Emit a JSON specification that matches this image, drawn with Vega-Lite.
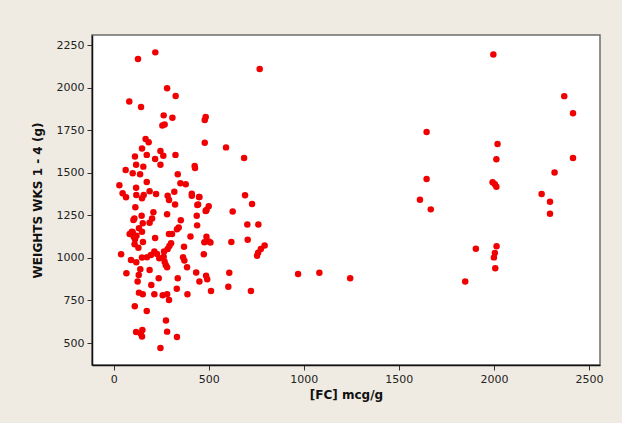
{
  "$schema": "https://vega.github.io/schema/vega-lite/v6.json",
  "width": 508,
  "height": 330,
  "autosize": {"type": "none"},
  "padding": {"left": 92, "top": 35, "right": 22, "bottom": 58},
  "background": "#efebe2",
  "config": {
    "view": {"fill": "white", "stroke": "#6e6e6e", "strokeWidth": 1.5},
    "axis": {
      "labelFont": "DejaVu Sans", "labelFontSize": 11, "labelColor": "#222222",
      "titleFont": "DejaVu Sans", "titleFontSize": 12, "titleFontWeight": "bold", "titleColor": "#111111",
      "domainColor": "#111111", "domainWidth": 1.5, "tickColor": "#333333", "tickSize": 5, "labelPadding": 3, "grid": false
    }
  },
  "data": {"values": [
    {"fc": 128, "w": 2168}, {"fc": 219, "w": 2207}, {"fc": 768, "w": 2109}, {"fc": 281, "w": 1996},
    {"fc": 326, "w": 1951}, {"fc": 82, "w": 1919}, {"fc": 144, "w": 1886}, {"fc": 263, "w": 1837},
    {"fc": 309, "w": 1823}, {"fc": 256, "w": 1778}, {"fc": 268, "w": 1784}, {"fc": 484, "w": 1827},
    {"fc": 479, "w": 1810}, {"fc": 168, "w": 1698}, {"fc": 184, "w": 1679}, {"fc": 149, "w": 1643},
    {"fc": 479, "w": 1676}, {"fc": 591, "w": 1649}, {"fc": 686, "w": 1586}, {"fc": 112, "w": 1595},
    {"fc": 174, "w": 1605}, {"fc": 246, "w": 1628}, {"fc": 261, "w": 1600}, {"fc": 218, "w": 1581},
    {"fc": 325, "w": 1605}, {"fc": 118, "w": 1547}, {"fc": 156, "w": 1536}, {"fc": 246, "w": 1547},
    {"fc": 426, "w": 1540}, {"fc": 428, "w": 1528}, {"fc": 63, "w": 1516}, {"fc": 100, "w": 1497},
    {"fc": 139, "w": 1491}, {"fc": 337, "w": 1491}, {"fc": 174, "w": 1446}, {"fc": 351, "w": 1438},
    {"fc": 379, "w": 1432}, {"fc": 30, "w": 1426}, {"fc": 47, "w": 1379}, {"fc": 65, "w": 1356},
    {"fc": 118, "w": 1412}, {"fc": 119, "w": 1369}, {"fc": 149, "w": 1350}, {"fc": 158, "w": 1369},
    {"fc": 189, "w": 1391}, {"fc": 223, "w": 1375}, {"fc": 284, "w": 1365}, {"fc": 291, "w": 1340},
    {"fc": 319, "w": 1389}, {"fc": 323, "w": 1313}, {"fc": 411, "w": 1377}, {"fc": 411, "w": 1365},
    {"fc": 449, "w": 1358}, {"fc": 444, "w": 1313}, {"fc": 488, "w": 1281}, {"fc": 500, "w": 1303},
    {"fc": 484, "w": 1276}, {"fc": 691, "w": 1368}, {"fc": 728, "w": 1317}, {"fc": 626, "w": 1272},
    {"fc": 114, "w": 1297}, {"fc": 109, "w": 1232}, {"fc": 104, "w": 1223}, {"fc": 147, "w": 1248},
    {"fc": 153, "w": 1203}, {"fc": 209, "w": 1268}, {"fc": 202, "w": 1232}, {"fc": 189, "w": 1207},
    {"fc": 281, "w": 1256}, {"fc": 353, "w": 1221}, {"fc": 437, "w": 1248}, {"fc": 439, "w": 1191},
    {"fc": 703, "w": 1196}, {"fc": 761, "w": 1196}, {"fc": 342, "w": 1178}, {"fc": 333, "w": 1168},
    {"fc": 291, "w": 1140}, {"fc": 307, "w": 1140}, {"fc": 84, "w": 1140}, {"fc": 96, "w": 1154},
    {"fc": 105, "w": 1125}, {"fc": 112, "w": 1110}, {"fc": 133, "w": 1174}, {"fc": 149, "w": 1154},
    {"fc": 154, "w": 1094}, {"fc": 218, "w": 1117}, {"fc": 404, "w": 1125}, {"fc": 488, "w": 1124},
    {"fc": 477, "w": 1092}, {"fc": 500, "w": 1096}, {"fc": 509, "w": 1090}, {"fc": 619, "w": 1093},
    {"fc": 705, "w": 1106}, {"fc": 370, "w": 1066}, {"fc": 302, "w": 1086}, {"fc": 293, "w": 1070},
    {"fc": 284, "w": 1052}, {"fc": 265, "w": 1037}, {"fc": 794, "w": 1073}, {"fc": 774, "w": 1052},
    {"fc": 760, "w": 1030}, {"fc": 754, "w": 1013}, {"fc": 39, "w": 1021}, {"fc": 91, "w": 988},
    {"fc": 119, "w": 974}, {"fc": 149, "w": 1002}, {"fc": 175, "w": 1004}, {"fc": 196, "w": 1017},
    {"fc": 214, "w": 1037}, {"fc": 228, "w": 1023}, {"fc": 240, "w": 998}, {"fc": 263, "w": 1007},
    {"fc": 268, "w": 978}, {"fc": 274, "w": 958}, {"fc": 281, "w": 945}, {"fc": 365, "w": 1004},
    {"fc": 372, "w": 984}, {"fc": 386, "w": 945}, {"fc": 474, "w": 1021}, {"fc": 67, "w": 910},
    {"fc": 140, "w": 933}, {"fc": 132, "w": 900}, {"fc": 189, "w": 929}, {"fc": 126, "w": 861},
    {"fc": 237, "w": 880}, {"fc": 337, "w": 880}, {"fc": 434, "w": 914}, {"fc": 451, "w": 862},
    {"fc": 486, "w": 895}, {"fc": 492, "w": 874}, {"fc": 608, "w": 913}, {"fc": 970, "w": 906},
    {"fc": 1082, "w": 913}, {"fc": 198, "w": 841}, {"fc": 133, "w": 796}, {"fc": 153, "w": 786},
    {"fc": 214, "w": 786}, {"fc": 258, "w": 780}, {"fc": 281, "w": 786}, {"fc": 291, "w": 753},
    {"fc": 332, "w": 819}, {"fc": 388, "w": 786}, {"fc": 512, "w": 805}, {"fc": 603, "w": 831},
    {"fc": 722, "w": 805}, {"fc": 111, "w": 716}, {"fc": 174, "w": 688}, {"fc": 275, "w": 632},
    {"fc": 281, "w": 567}, {"fc": 333, "w": 536}, {"fc": 118, "w": 565}, {"fc": 142, "w": 556},
    {"fc": 151, "w": 577}, {"fc": 149, "w": 538}, {"fc": 246, "w": 471},
    {"fc": 100, "w": 1150}, {"fc": 120, "w": 1130}, {"fc": 110, "w": 1080}, {"fc": 130, "w": 1060},
    {"fc": 451, "w": 1357}, {"fc": 440, "w": 1311}, {"fc": 486, "w": 1277},
    {"fc": 1997, "w": 2195}, {"fc": 2370, "w": 1950}, {"fc": 2416, "w": 1849}, {"fc": 2416, "w": 1586},
    {"fc": 2319, "w": 1502}, {"fc": 2251, "w": 1375}, {"fc": 2295, "w": 1330}, {"fc": 2295, "w": 1259},
    {"fc": 1646, "w": 1739}, {"fc": 1646, "w": 1463}, {"fc": 1611, "w": 1342}, {"fc": 1668, "w": 1285},
    {"fc": 2019, "w": 1669}, {"fc": 2013, "w": 1579}, {"fc": 1993, "w": 1444}, {"fc": 2005, "w": 1432},
    {"fc": 2013, "w": 1418}, {"fc": 1905, "w": 1054}, {"fc": 2014, "w": 1068}, {"fc": 2005, "w": 1029},
    {"fc": 2000, "w": 1003}, {"fc": 2007, "w": 939}, {"fc": 1849, "w": 862}, {"fc": 1244, "w": 880}
  ]},
  "mark": {"type": "point", "filled": true, "shape": "circle", "size": 42, "color": "#f00000", "opacity": 1},
  "encoding": {
    "x": {"field": "fc", "type": "quantitative", "title": "[FC] mcg/g",
      "scale": {"domain": [-114, 2558], "nice": false, "zero": false},
      "axis": {"values": [0, 500, 1000, 1500, 2000, 2500], "format": "d", "titlePadding": 5}},
    "y": {"field": "w", "type": "quantitative", "title": "WEIGHTS WKS 1 - 4 (g)",
      "scale": {"domain": [371, 2309], "nice": false, "zero": false},
      "axis": {"values": [500, 750, 1000, 1250, 1500, 1750, 2000, 2250], "format": "d", "titlePadding": 12}}
  }
}
